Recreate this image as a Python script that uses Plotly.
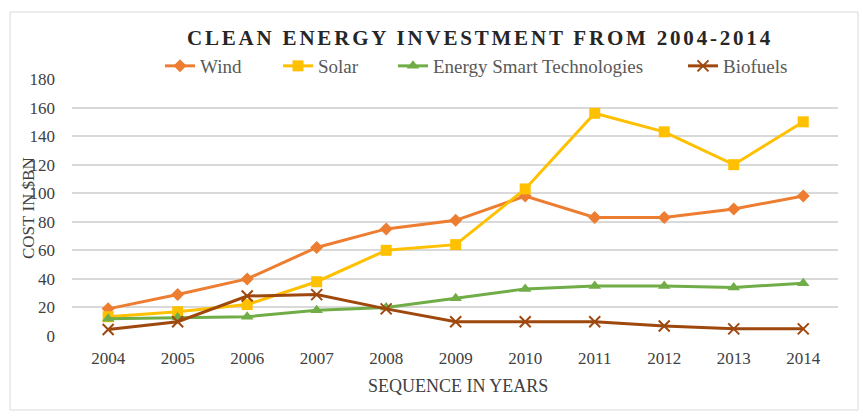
import plotly.graph_objects as go

years = ["2004", "2005", "2006", "2007", "2008", "2009", "2010", "2011", "2012", "2013", "2014"]
wind = [19, 29, 40, 62, 75, 81, 98, 83, 83, 89, 98]
solar = [13.5, 17, 22, 38, 60, 64, 103, 156, 143, 120, 150]
energy_smart = [12, 13, 13.5, 18, 20, 26.5, 33, 35, 35, 34, 37]
biofuels = [4.5, 10, 28, 29, 19, 10, 10, 10, 7, 5, 5]

series = [
    ("Wind", wind, "#ED7D31", "diamond", 10),
    ("Solar", solar, "#FFC000", "square", 11),
    ("Energy Smart Technologies", energy_smart, "#70AD47", "triangle-up", 11),
    ("Biofuels", biofuels, "#9E480E", "x-thin", 11),
]
# legend text start positions (px) for each entry
legend_text_x = [200, 318, 433, 723]
legend_names = ["legend", "legend2", "legend3", "legend4"]

font_family = "Liberation Serif, DejaVu Serif, serif"

fig = go.Figure()
for (name, vals, color, sym, size), lg in zip(series, legend_names):
    marker = dict(symbol=sym, size=size, color=color)
    if sym == "x-thin":
        marker["line"] = dict(color=color, width=2)
    fig.add_trace(go.Scatter(
        x=years, y=vals, name=name, mode="lines+markers",
        line=dict(color=color, width=3), marker=marker, legend=lg,
    ))

legend_common = dict(
    orientation="h", xanchor="left", xref="container",
    y=1 - 66 / 416, yanchor="middle", yref="container",
    font=dict(size=19, color="#595959"),
    bgcolor="rgba(0,0,0,0)", borderwidth=0,
)
legend_layouts = {}
for lg, tx in zip(legend_names, legend_text_x):
    legend_layouts[lg] = dict(legend_common, x=(tx - 40) / 863)

fig.update_layout(
    width=863, height=416,
    margin=dict(l=72, r=25, t=79, b=80, autoexpand=False),
    paper_bgcolor="white", plot_bgcolor="white",
    font=dict(family=font_family, color="#404040", size=17),
    title=dict(
        text='<b><span style="letter-spacing:2.8px">CLEAN ENERGY INVESTMENT FROM 2004-2014</span></b>',
        x=480 / 863, xanchor="center", y=1 - 38 / 416, yanchor="middle",
        xref="container", yref="container",
        font=dict(size=21, color="#262626", family=font_family),
    ),
    showlegend=True,
    **legend_layouts,
)

fig.update_xaxes(
    type="category", range=[-0.52, 10.5], showgrid=False, showline=False, zeroline=False,
    ticks="", ticklabelstandoff=10,
    tickfont=dict(size=17, color="#404040"),
)
fig.update_yaxes(
    range=[0, 180], dtick=20, showgrid=True, gridcolor="#D9D9D9", gridwidth=1.5,
    zeroline=False, showline=False, ticks="", ticklabelstandoff=16,
    tickfont=dict(size=17, color="#404040"),
)

fig.add_annotation(
    text="COST IN $BN", textangle=-90, xref="paper", yref="paper",
    x=(28 - 72) / 766, y=(336 - 208) / 257, xanchor="center", yanchor="middle",
    showarrow=False, font=dict(size=17, color="#404040"),
)
fig.add_annotation(
    text="SEQUENCE IN YEARS", xref="paper", yref="paper",
    x=(458 - 72) / 766, y=(336 - 386) / 257, xanchor="center", yanchor="middle",
    showarrow=False, font=dict(size=18, color="#404040"),
)
fig.add_shape(
    type="rect", xref="paper", yref="paper",
    x0=(10 - 72) / 766, x1=(858 - 72) / 766,
    y0=(336 - 410) / 257, y1=(336 - 12) / 257,
    line=dict(color="#D9D9D9", width=1), layer="below",
)

fig.write_html(
    "out.html",
    config={"displayModeBar": False},
    post_script="document.body.style.margin='0';document.body.style.overflow='hidden';",
)
